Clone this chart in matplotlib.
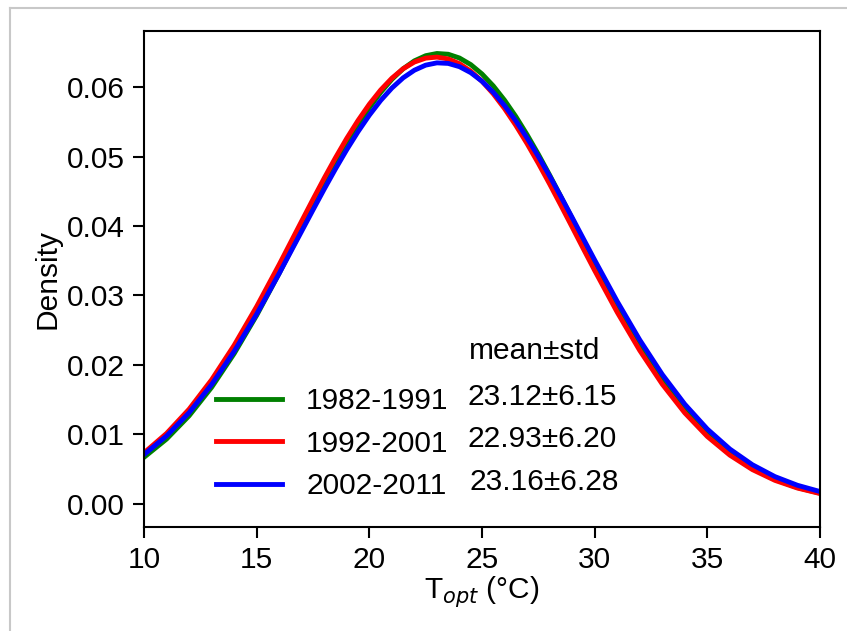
"""Topt density curves for three decades."""

import matplotlib
matplotlib.use("Agg")
import matplotlib.pyplot as plt
from matplotlib.lines import Line2D

plt.rcParams["font.family"] = ["Liberation Sans", "DejaVu Sans"]
plt.rcParams["mathtext.fontset"] = "dejavusans"

# density (finer steps round the peak)
t_opt = [10, 11, 12, 13, 14, 15, 16, 17, 17.5, 18, 18.5, 19, 19.5, 20, 20.5, 21,
         21.5, 22, 22.5, 23, 23.5, 24, 24.5, 25, 25.5, 26, 26.5, 27, 27.5, 28,
         28.5, 29, 29.5, 30, 31, 32, 33, 34, 35, 36, 37, 38, 39, 40]
dens_1982 = [0.00667, 0.00930, 0.01265, 0.01675, 0.02161, 0.02713, 0.03319, 0.03954,
             0.04273, 0.04587, 0.04892, 0.05183, 0.05455, 0.05704, 0.05924, 0.06113,
             0.06266, 0.06380, 0.06454, 0.06486, 0.06475, 0.06421, 0.06326, 0.06191,
             0.06019, 0.05813, 0.05578, 0.05316, 0.05034, 0.04735, 0.04425, 0.04107,
             0.03787, 0.03470, 0.02855, 0.02287, 0.01785, 0.01356, 0.01004, 0.00724,
             0.00508, 0.00348, 0.00231, 0.00150]
dens_1992 = [0.00731, 0.01011, 0.01360, 0.01784, 0.02281, 0.02840, 0.03445, 0.04073,
             0.04385, 0.04691, 0.04985, 0.05264, 0.05521, 0.05755, 0.05959, 0.06130,
             0.06266, 0.06363, 0.06419, 0.06434, 0.06407, 0.06339, 0.06231, 0.06086,
             0.05905, 0.05692, 0.05451, 0.05187, 0.04904, 0.04606, 0.04298, 0.03985,
             0.03670, 0.03359, 0.02758, 0.02207, 0.01721, 0.01307, 0.00967, 0.00698,
             0.00490, 0.00335, 0.00224, 0.00145]
dens_2002 = [0.00707, 0.00975, 0.01310, 0.01716, 0.02193, 0.02731, 0.03317, 0.03927,
             0.04232, 0.04533, 0.04824, 0.05101, 0.05360, 0.05597, 0.05808, 0.05988,
             0.06135, 0.06245, 0.06318, 0.06351, 0.06343, 0.06296, 0.06210, 0.06086,
             0.05927, 0.05735, 0.05515, 0.05269, 0.05003, 0.04721, 0.04425, 0.04123,
             0.03816, 0.03510, 0.02914, 0.02359, 0.01861, 0.01432, 0.01074, 0.00786,
             0.00560, 0.00389, 0.00264, 0.00174]

periods = ["1982-1991", "1992-2001", "2002-2011"]
stats = ["23.12±6.15", "22.93±6.20", "23.16±6.28"]
colors = ["green", "red", "blue"]

FS = 21.5

fig = plt.figure(figsize=(8.47, 6.31), dpi=100)
ax = fig.add_axes([144 / 847, 1 - 527 / 631, 676 / 847, 496 / 631])

for dens, lab, c in zip([dens_1982, dens_1992, dens_2002], periods, colors):
    ax.plot(t_opt, dens, color=c, lw=3.5, label=lab, solid_joinstyle="round")

ax.set_xlim(10, 40)
ax.set_ylim(-0.00337, 0.0681)
ax.set_xticks([10, 15, 20, 25, 30, 35, 40])
ax.set_yticks([0.0, 0.01, 0.02, 0.03, 0.04, 0.05, 0.06])
ax.yaxis.set_major_formatter(matplotlib.ticker.FormatStrFormatter("%.2f"))
ax.tick_params(labelsize=FS, length=8, width=1.5, pad=6)
for sp in ax.spines.values():
    sp.set_linewidth(1.5)

ax.set_xlabel("T$_{opt}$ (°C)", fontsize=FS, labelpad=0)
ax.set_ylabel("Density", fontsize=FS, labelpad=4)

ax.legend(loc="upper left", bbox_to_anchor=(0.1065, 0.282), frameon=False,
          fontsize=FS, handlelength=2.2, handletextpad=0.82, labelspacing=0.49,
          borderpad=0, borderaxespad=0)

ax.text(0.481, 0.354, "mean±std", transform=ax.transAxes, fontsize=FS, va="center")
for i, (s, yy) in enumerate(zip(stats, [0.263, 0.177, 0.090])):
    xx = 0.481 if i == 2 else 0.478
    ax.text(xx, yy, s, transform=ax.transAxes, fontsize=FS, va="center")

# light grey frame of the screenshot
fig.add_artist(Line2D([10 / 847, 1], [1 - 8 / 631] * 2, color="#c8c8c8", lw=1.5))
fig.add_artist(Line2D([10 / 847] * 2, [0, 1 - 8 / 631], color="#c8c8c8", lw=1.5))

fig.savefig("out.png", dpi=100)
